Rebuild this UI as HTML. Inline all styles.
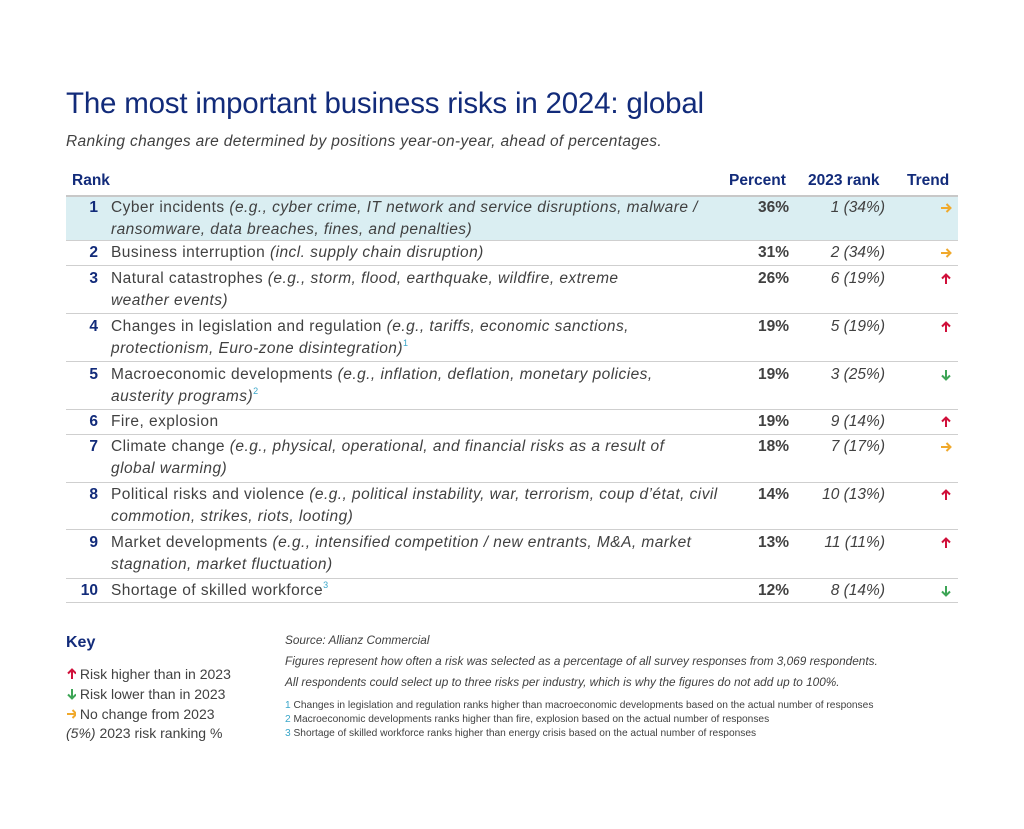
<!DOCTYPE html>
<html><head><meta charset="utf-8"><style>
body{margin:0;background:#fff;width:1024px;height:829px;position:relative;font-family:"Liberation Sans",sans-serif;color:#414141;overflow:hidden}
.a{position:absolute;white-space:nowrap}
.t{font-size:29.5px;color:#122b7a;left:66px;top:87px;letter-spacing:-0.2px}
.s{font-size:15.5px;font-style:italic;left:66px;top:133px;letter-spacing:0.35px}
.h{font-size:15.5px;font-weight:bold;color:#122b7a;top:172px}
.n{font-size:15.5px;font-weight:bold;color:#122b7a;width:30px;text-align:right;left:68px}
.d{font-size:15.5px;left:111px;line-height:22px;letter-spacing:0.45px}
.p{font-size:15.5px;font-weight:bold;width:60px;text-align:right;left:729px}
.r{font-size:15.5px;font-style:italic;width:90px;text-align:right;left:795px}
.ar{left:940px}
.line{position:absolute;left:66px;width:892px;height:1px;background:#cfcfcf}
i{font-style:italic}
sup{color:#3aa6c9;font-size:9px;line-height:0;vertical-align:0;position:relative;top:-7px}
.k{font-size:14px;left:66px}
.f{font-size:11.8px;font-style:italic;left:285px}
.fn{font-size:10.2px;left:285px}
.fn b{color:#3aa6c9;font-weight:normal}
svg{display:inline-block}
</style></head><body>
<svg width="0" height="0" style="position:absolute"><defs>
<g id="up"><path d="M6 11V2M2 5.5L6 1.5 10 5.5" stroke="#d0103a" stroke-width="2" fill="none"/></g>
<g id="dn"><path d="M6 1V10M2 6.5L6 10.5 10 6.5" stroke="#3da556" stroke-width="2" fill="none"/></g>
<g id="eq"><path d="M1 6H10M6.5 2L10.5 6 6.5 10" stroke="#f0a92c" stroke-width="2" fill="none"/></g>
</defs></svg>
<div class="a t">The most important business risks in 2024: global</div>
<div class="a s">Ranking changes are determined by positions year-on-year, ahead of percentages.</div>
<div class="a h" style="left:72px">Rank</div>
<div class="a h" style="left:729px">Percent</div>
<div class="a h" style="left:808px">2023 rank</div>
<div class="a h" style="left:907px">Trend</div>
<div style="position:absolute;left:66px;top:195px;width:892px;height:45px;background:#daeef2"></div>
<div class="line" style="top:195px;height:2px;background:#c8c8c8"></div>
<div class="line" style="top:240px"></div>
<div class="line" style="top:265px"></div>
<div class="line" style="top:313px"></div>
<div class="line" style="top:361px"></div>
<div class="line" style="top:409px"></div>
<div class="line" style="top:434px"></div>
<div class="line" style="top:482px"></div>
<div class="line" style="top:529px"></div>
<div class="line" style="top:578px"></div>
<div class="line" style="top:602px"></div>

<div class="a n" style="top:199px">1</div><div class="a d" style="top:197px">Cyber incidents <i>(e.g., cyber crime, IT network and service disruptions, malware /<br>ransomware, data breaches, fines, and penalties)</i></div><div class="a p" style="top:199px">36%</div><div class="a r" style="top:199px">1 (34%)</div><svg class="a ar" style="top:202px" width="12" height="12"><use href="#eq"/></svg>
<div class="a n" style="top:244px">2</div><div class="a d" style="top:242px">Business interruption <i>(incl. supply chain disruption)</i></div><div class="a p" style="top:244px">31%</div><div class="a r" style="top:244px">2 (34%)</div><svg class="a ar" style="top:247px" width="12" height="12"><use href="#eq"/></svg>
<div class="a n" style="top:270px">3</div><div class="a d" style="top:268px">Natural catastrophes <i>(e.g., storm, flood, earthquake, wildfire, extreme<br>weather events)</i></div><div class="a p" style="top:270px">26%</div><div class="a r" style="top:270px">6 (19%)</div><svg class="a ar" style="top:273px" width="12" height="12"><use href="#up"/></svg>
<div class="a n" style="top:318px">4</div><div class="a d" style="top:316px">Changes in legislation and regulation <i>(e.g., tariffs, economic sanctions,<br>protectionism, Euro-zone disintegration)</i><sup>1</sup></div><div class="a p" style="top:318px">19%</div><div class="a r" style="top:318px">5 (19%)</div><svg class="a ar" style="top:321px" width="12" height="12"><use href="#up"/></svg>
<div class="a n" style="top:366px">5</div><div class="a d" style="top:364px">Macroeconomic developments <i>(e.g., inflation, deflation, monetary policies,<br>austerity programs)</i><sup>2</sup></div><div class="a p" style="top:366px">19%</div><div class="a r" style="top:366px">3 (25%)</div><svg class="a ar" style="top:369px" width="12" height="12"><use href="#dn"/></svg>
<div class="a n" style="top:413px">6</div><div class="a d" style="top:411px">Fire, explosion</div><div class="a p" style="top:413px">19%</div><div class="a r" style="top:413px">9 (14%)</div><svg class="a ar" style="top:416px" width="12" height="12"><use href="#up"/></svg>
<div class="a n" style="top:438px">7</div><div class="a d" style="top:436px">Climate change <i>(e.g., physical, operational, and financial risks as a result of<br>global warming)</i></div><div class="a p" style="top:438px">18%</div><div class="a r" style="top:438px">7 (17%)</div><svg class="a ar" style="top:441px" width="12" height="12"><use href="#eq"/></svg>
<div class="a n" style="top:486px">8</div><div class="a d" style="top:484px">Political risks and violence <i>(e.g., political instability, war, terrorism, coup d’état, civil<br>commotion, strikes, riots, looting)</i></div><div class="a p" style="top:486px">14%</div><div class="a r" style="top:486px">10 (13%)</div><svg class="a ar" style="top:489px" width="12" height="12"><use href="#up"/></svg>
<div class="a n" style="top:534px">9</div><div class="a d" style="top:532px">Market developments <i>(e.g., intensified competition / new entrants, M&amp;A, market<br>stagnation, market fluctuation)</i></div><div class="a p" style="top:534px">13%</div><div class="a r" style="top:534px">11 (11%)</div><svg class="a ar" style="top:537px" width="12" height="12"><use href="#up"/></svg>
<div class="a n" style="top:582px">10</div><div class="a d" style="top:580px">Shortage of skilled workforce<sup>3</sup></div><div class="a p" style="top:582px">12%</div><div class="a r" style="top:582px">8 (14%)</div><svg class="a ar" style="top:585px" width="12" height="12"><use href="#dn"/></svg>

<div class="a" style="left:66px;top:634px;font-size:16px;font-weight:bold;color:#122b7a">Key</div>
<div class="a k" style="top:666px"><svg width="10" height="12" style="vertical-align:-1px"><use href="#up"/></svg> Risk higher than in 2023</div>
<div class="a k" style="top:686px"><svg width="10" height="12" style="vertical-align:-1px"><use href="#dn"/></svg> Risk lower than in 2023</div>
<div class="a k" style="top:706px"><svg width="10" height="12" style="vertical-align:-1px"><use href="#eq"/></svg> No change from 2023</div>
<div class="a k" style="top:725px"><i>(5%)</i> 2023 risk ranking %</div>

<div class="a f" style="top:633px">Source: Allianz Commercial</div>
<div class="a f" style="top:654px">Figures represent how often a risk was selected as a percentage of all survey responses from 3,069 respondents.</div>
<div class="a f" style="top:675px">All respondents could select up to three risks per industry, which is why the figures do not add up to 100%.</div>
<div class="a fn" style="top:700px"><b>1</b> Changes in legislation and regulation ranks higher than macroeconomic developments based on the actual number of responses</div>
<div class="a fn" style="top:714px"><b>2</b> Macroeconomic developments ranks higher than fire, explosion based on the actual number of responses</div>
<div class="a fn" style="top:728px"><b>3</b> Shortage of skilled workforce ranks higher than energy crisis based on the actual number of responses</div>
</body></html>
